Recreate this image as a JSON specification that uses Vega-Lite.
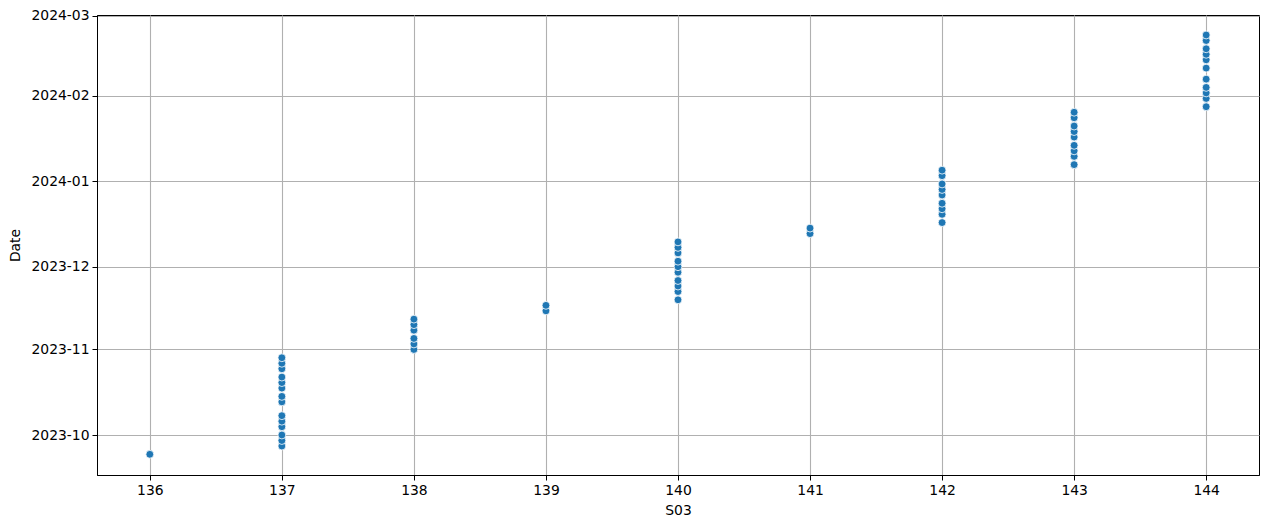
{
  "$schema": "https://vega.github.io/schema/vega-lite/v6.json",
  "autosize": "none",
  "width": 1162,
  "height": 460,
  "padding": {"left": 97, "top": 15, "right": 10, "bottom": 54},
  "background": "white",
  "data": {"values": [
    {"S03": 136, "Date": "2023-09-24"},
    {"S03": 137, "Date": "2023-09-27"},
    {"S03": 137, "Date": "2023-09-29"},
    {"S03": 137, "Date": "2023-10-01"},
    {"S03": 137, "Date": "2023-10-04"},
    {"S03": 137, "Date": "2023-10-06"},
    {"S03": 137, "Date": "2023-10-08"},
    {"S03": 137, "Date": "2023-10-13"},
    {"S03": 137, "Date": "2023-10-15"},
    {"S03": 137, "Date": "2023-10-18"},
    {"S03": 137, "Date": "2023-10-20"},
    {"S03": 137, "Date": "2023-10-22"},
    {"S03": 137, "Date": "2023-10-25"},
    {"S03": 137, "Date": "2023-10-27"},
    {"S03": 137, "Date": "2023-10-29"},
    {"S03": 138, "Date": "2023-11-01"},
    {"S03": 138, "Date": "2023-11-03"},
    {"S03": 138, "Date": "2023-11-05"},
    {"S03": 138, "Date": "2023-11-08"},
    {"S03": 138, "Date": "2023-11-10"},
    {"S03": 138, "Date": "2023-11-12"},
    {"S03": 139, "Date": "2023-11-15"},
    {"S03": 139, "Date": "2023-11-17"},
    {"S03": 140, "Date": "2023-11-19"},
    {"S03": 140, "Date": "2023-11-22"},
    {"S03": 140, "Date": "2023-11-24"},
    {"S03": 140, "Date": "2023-11-26"},
    {"S03": 140, "Date": "2023-11-29"},
    {"S03": 140, "Date": "2023-12-01"},
    {"S03": 140, "Date": "2023-12-03"},
    {"S03": 140, "Date": "2023-12-06"},
    {"S03": 140, "Date": "2023-12-08"},
    {"S03": 140, "Date": "2023-12-10"},
    {"S03": 141, "Date": "2023-12-13"},
    {"S03": 141, "Date": "2023-12-15"},
    {"S03": 142, "Date": "2023-12-17"},
    {"S03": 142, "Date": "2023-12-20"},
    {"S03": 142, "Date": "2023-12-22"},
    {"S03": 142, "Date": "2023-12-24"},
    {"S03": 142, "Date": "2023-12-27"},
    {"S03": 142, "Date": "2023-12-29"},
    {"S03": 142, "Date": "2023-12-31"},
    {"S03": 142, "Date": "2024-01-03"},
    {"S03": 142, "Date": "2024-01-05"},
    {"S03": 143, "Date": "2024-01-07"},
    {"S03": 143, "Date": "2024-01-10"},
    {"S03": 143, "Date": "2024-01-12"},
    {"S03": 143, "Date": "2024-01-14"},
    {"S03": 143, "Date": "2024-01-17"},
    {"S03": 143, "Date": "2024-01-19"},
    {"S03": 143, "Date": "2024-01-21"},
    {"S03": 143, "Date": "2024-01-24"},
    {"S03": 143, "Date": "2024-01-26"},
    {"S03": 144, "Date": "2024-01-28"},
    {"S03": 144, "Date": "2024-01-31"},
    {"S03": 144, "Date": "2024-02-02"},
    {"S03": 144, "Date": "2024-02-04"},
    {"S03": 144, "Date": "2024-02-07"},
    {"S03": 144, "Date": "2024-02-11"},
    {"S03": 144, "Date": "2024-02-14"},
    {"S03": 144, "Date": "2024-02-16"},
    {"S03": 144, "Date": "2024-02-18"},
    {"S03": 144, "Date": "2024-02-21"},
    {"S03": 144, "Date": "2024-02-23"}
  ]},
  "mark": {"type": "point", "filled": true, "shape": "circle", "size": 62, "color": "#1f77b4", "stroke": "white", "strokeWidth": 0.8, "opacity": 1},
  "encoding": {
    "x": {
      "field": "S03", "type": "quantitative", "title": "S03",
      "scale": {"domain": [135.6, 144.4], "zero": false, "nice": false},
      "axis": {"values": [136, 137, 138, 139, 140, 141, 142, 143, 144], "format": "d"}
    },
    "y": {
      "field": "Date", "type": "temporal", "title": "Date",
      "scale": {"type": "utc", "domain": ["2023-09-16T12:00:00Z", "2024-03-01T06:00:00Z"], "nice": false},
      "axis": {"format": "%Y-%m", "tickCount": {"interval": "month", "step": 1}}
    }
  },
  "config": {
    "font": "DejaVu Sans",
    "view": {"stroke": "black", "strokeWidth": 1},
    "axis": {
      "labelFont": "DejaVu Sans", "titleFont": "DejaVu Sans",
      "labelFontSize": 13.9, "titleFontSize": 13.9, "titleFontWeight": "normal",
      "labelColor": "black", "titleColor": "black",
      "domainColor": "black", "domainWidth": 1,
      "tickColor": "black", "tickSize": 5, "tickWidth": 1,
      "grid": true, "gridColor": "#b0b0b0", "gridWidth": 1.1, "gridOpacity": 1,
      "labelPadding": 3, "labelFlush": false, "labelOverlap": false
    },
    "axisX": {"titlePadding": 7},
    "axisY": {"titlePadding": 8}
  }
}
